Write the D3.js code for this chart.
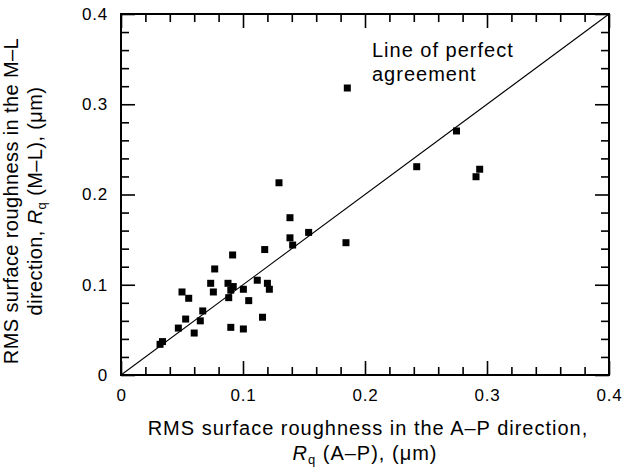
<!DOCTYPE html>
<html>
<head>
<meta charset="utf-8">
<script src="https://cdn.jsdelivr.net/npm/d3@7"></script>
<style>
  html, body { margin: 0; padding: 0; background: #fff; }
  svg { display: block; font-family: "Liberation Sans", Arial, sans-serif; }
</style>
</head>
<body>
<svg id="chart" width="630" height="470"></svg>
<script>
// Data
const apValues = [0.032, 0.034, 0.047, 0.050, 0.0555, 0.053, 0.060, 0.065, 0.067, 0.0735, 0.0757, 0.0768,
  0.0877, 0.092, 0.090, 0.0883, 0.0915, 0.090, 0.1003, 0.1003, 0.1047, 0.1117, 0.120, 0.1216, 0.116,
  0.1178, 0.1295, 0.1385, 0.1385, 0.1407, 0.1538, 0.1844, 0.1855, 0.2424, 0.275, 0.294, 0.291];
const mlValues = [0.034, 0.037, 0.052, 0.092, 0.085, 0.062, 0.0465, 0.060, 0.071, 0.1016, 0.092, 0.1175,
  0.1016, 0.098, 0.094, 0.0857, 0.133, 0.0528, 0.095, 0.051, 0.0824, 0.105, 0.1016, 0.095, 0.064,
  0.139, 0.213, 0.1743, 0.152, 0.144, 0.158, 0.1466, 0.318, 0.2308, 0.2704, 0.228, 0.2197];
const majorTicks = [0, 0.1, 0.2, 0.3, 0.4];
const tickLabels = ["0", "0.1", "0.2", "0.3", "0.4"];
const minorTicks = [0.02, 0.04, 0.06, 0.08, 0.12, 0.14, 0.16, 0.18, 0.22, 0.24, 0.26, 0.28, 0.32, 0.34, 0.36, 0.38];
const agreementLine = [[0, 0], [0.4, 0.4]];

const svg = d3.select("#chart");
const L = 121, R = 609, T = 14, B = 375;
const x = d3.scaleLinear().domain([0, 0.4]).range([L, R]);
const y = d3.scaleLinear().domain([0, 0.4]).range([B, T]);

const MAJ = 14, MIN = 8;

// bottom
const gB = svg.append("g").attr("transform", `translate(0,${B})`);
gB.call(d3.axisBottom(x).tickValues(majorTicks).tickSizeInner(-MAJ).tickSizeOuter(0)
  .tickFormat((d, i) => tickLabels[i]).tickPadding(14));
gB.append("g").call(d3.axisBottom(x).tickValues(minorTicks).tickSizeInner(-MIN).tickSizeOuter(0).tickFormat(""));
// top
const gT = svg.append("g").attr("transform", `translate(0,${T})`);
gT.call(d3.axisTop(x).tickValues(majorTicks).tickSizeInner(-MAJ).tickSizeOuter(0).tickFormat(""));
gT.append("g").call(d3.axisTop(x).tickValues(minorTicks).tickSizeInner(-MIN).tickSizeOuter(0).tickFormat(""));
// left
const gL = svg.append("g").attr("transform", `translate(${L},0)`);
gL.call(d3.axisLeft(y).tickValues(majorTicks).tickSizeInner(-MAJ).tickSizeOuter(0)
  .tickFormat((d, i) => tickLabels[i]).tickPadding(13));
gL.append("g").call(d3.axisLeft(y).tickValues(minorTicks).tickSizeInner(-MIN).tickSizeOuter(0).tickFormat(""));
// right
const gR = svg.append("g").attr("transform", `translate(${R},0)`);
gR.call(d3.axisRight(y).tickValues(majorTicks).tickSizeInner(-MAJ).tickSizeOuter(0).tickFormat(""));
gR.append("g").call(d3.axisRight(y).tickValues(minorTicks).tickSizeInner(-MIN).tickSizeOuter(0).tickFormat(""));

svg.selectAll(".domain").remove();
svg.selectAll(".tick line").attr("stroke", "#000").attr("stroke-width", 1.6);
svg.selectAll(".tick text").attr("font-size", 17).attr("fill", "#000")
  .attr("letter-spacing", 0.8).attr("font-family", "Liberation Sans, Arial, sans-serif");

// frame
svg.append("rect").attr("x", L).attr("y", T).attr("width", R - L).attr("height", B - T)
  .attr("fill", "none").attr("stroke", "#000").attr("stroke-width", 2);

// line of perfect agreement
svg.append("path").datum(agreementLine)
  .attr("d", d3.line().x(d => x(d[0])).y(d => y(d[1])))
  .attr("stroke", "#000").attr("stroke-width", 1.1).attr("fill", "none");

// points
const S = 7;
svg.append("g").selectAll("rect").data(apValues.map((v, i) => [v, mlValues[i]])).join("rect")
  .attr("x", d => x(d[0]) - S / 2).attr("y", d => y(d[1]) - S / 2)
  .attr("width", S).attr("height", S).attr("fill", "#000");

// annotation
const ann = svg.append("text").attr("font-size", 20).attr("letter-spacing", 1).attr("fill", "#000");
ann.append("tspan").attr("x", 372).attr("y", 57).text("Line of perfect");
ann.append("tspan").attr("x", 372).attr("y", 81).text("agreement");

// x title
const xt = svg.append("text").attr("font-size", 20).attr("letter-spacing", 1).attr("text-anchor", "middle").attr("fill", "#000");
xt.append("tspan").attr("x", (L + R) / 2 + 3).attr("y", 435).text("RMS surface roughness in the A\u2013P direction,");
const xt2 = xt.append("tspan").attr("x", (L + R) / 2).attr("y", 460);
xt2.append("tspan").attr("font-style", "italic").text("R");
xt2.append("tspan").attr("font-size", 13).attr("dy", 4).text("q");
xt2.append("tspan").attr("dy", -4).text(" (A\u2013P), (\u03bcm)");

// y title
const yt = svg.append("text").attr("font-size", 20).attr("letter-spacing", 0.4).attr("text-anchor", "middle")
  .attr("fill", "#000").attr("transform", "rotate(-90)");
const yc = -201;
yt.append("tspan").attr("x", yc).attr("y", 18).text("RMS surface roughness in the M\u2013L");
const yt2 = yt.append("tspan").attr("x", yc).attr("y", 42);
yt2.append("tspan").text("direction, ");
yt2.append("tspan").attr("font-style", "italic").text("R");
yt2.append("tspan").attr("font-size", 13).attr("dy", 4).text("q");
yt2.append("tspan").attr("dy", -4).text(" (M\u2013L), (\u03bcm)");
</script>
</body>
</html>
